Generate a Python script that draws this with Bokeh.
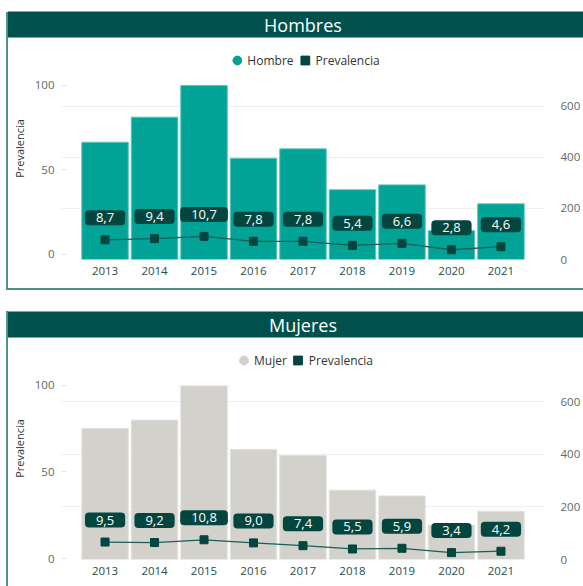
from bokeh.plotting import figure
from bokeh.models import (Range1d, LinearAxis, FixedTicker, Grid, Legend, LegendItem,
                          FactorRange)
from bokeh.layouts import column
from bokeh.embed import file_html
from bokeh.resources import INLINE
from bokeh.core.properties import value

# ---------------- data ----------------
years = ["2013", "2014", "2015", "2016", "2017", "2018", "2019", "2020", "2021"]
hombres_casos = [459, 557, 681, 396, 433, 273, 292, 113, 218]
hombres_prev = [8.7, 9.4, 10.7, 7.8, 7.8, 5.4, 6.6, 2.8, 4.6]
mujeres_casos = [499, 531, 661, 419, 396, 264, 242, 131, 184]
mujeres_prev = [9.5, 9.2, 10.8, 9.0, 7.4, 5.5, 5.9, 3.4, 4.2]
left_ticks = [0, 50, 100]
right_ticks = [0, 200, 400, 600]

# ---------------- style ----------------
FONT = "Open Sans"
W = 575
TITLE_BG = "#00514D"
MARK = "#03463F"
LINE = "#1B5E58"
BORDER = "#4E9189"


def fmt(v):
    return f"{v:.1f}".replace(".", ",")


def panel(title, casos, prev, bar_color, bar_line, legend_name, yl, yr, height, top, bottom,
          margin):
    p = figure(width=W, height=height,
               x_range=FactorRange(factors=years, range_padding=0.0844),
               y_range=Range1d(*yl), toolbar_location=None, output_backend="svg",
               min_border_left=50, min_border_right=36, min_border_top=top,
               min_border_bottom=bottom, margin=margin)
    p.extra_y_ranges = {"n": Range1d(*yr)}
    p.outline_line_color = None
    p.background_fill_color = "white"
    p.border_fill_color = "white"
    p.xgrid.visible = False
    p.ygrid.visible = False

    # title bar
    p.title.text = title
    p.title.align = "center"
    p.title.text_color = "white"
    p.title.text_font = FONT
    p.title.text_font_size = "18px"
    p.title.text_font_style = "normal"
    p.title.background_fill_color = TITLE_BG
    p.title.padding = dict(left=262, right=262, top=1, bottom=1)
    p.title.standoff = 0

    # x axis
    xa = p.xaxis[0]
    xa.axis_line_color = None
    xa.major_tick_line_color = None
    xa.minor_tick_line_color = None
    xa.major_label_text_font = FONT
    xa.major_label_text_font_size = "11.5px"
    xa.major_label_text_color = "#1D4F4C"
    xa.major_label_standoff = 1

    # left axis (Prevalencia)
    ya = p.yaxis[0]
    ya.ticker = FixedTicker(ticks=left_ticks)
    ya.axis_label = "Prevalencia"
    ya.axis_label_text_font = FONT
    ya.axis_label_text_font_size = "11px"
    ya.axis_label_text_font_style = "normal"
    ya.axis_label_text_color = "#333333"
    ya.axis_label_standoff = 5
    ya.axis_line_color = None
    ya.major_tick_in = 5
    ya.major_tick_out = 0
    ya.major_tick_line_color = "#e4e4e4"
    ya.minor_tick_line_color = None
    ya.major_label_text_font = FONT
    ya.major_label_text_font_size = "11.5px"
    ya.major_label_text_color = "#666666"
    ya.major_label_standoff = 7

    # right axis (casos)
    ra = LinearAxis(y_range_name="n", ticker=FixedTicker(ticks=right_ticks))
    ra.axis_line_color = None
    ra.major_tick_line_color = None
    ra.minor_tick_line_color = None
    ra.major_label_text_font = FONT
    ra.major_label_text_font_size = "11.5px"
    ra.major_label_text_color = "#666666"
    ra.major_label_standoff = 10
    p.add_layout(ra, "right")

    p.add_layout(Grid(dimension=1, ticker=FixedTicker(ticks=right_ticks), y_range_name="n",
                      grid_line_color="#efefef", grid_line_width=1))

    p.vbar(x=years, top=casos, width=0.94, y_range_name="n",
           fill_color=bar_color, line_color=bar_line, line_width=1)
    p.line(x=years, y=prev, line_color=LINE, line_width=1.3)
    r_sq = p.scatter(x=years, y=prev, marker="square", size=8, fill_color=MARK, line_color=MARK)
    p.text(x=years, y=prev, text=[fmt(v) for v in prev], y_offset=-22,
           text_align="center", text_baseline="middle", text_color="white",
           text_font_size="13px", text_font=value(FONT),
           background_fill_color=MARK, border_radius=4,
           padding=dict(left=11, right=11, top=3, bottom=3))

    # legend (circle key for the bar series via a hidden renderer)
    r_ci = p.scatter(x=years, y=casos, y_range_name="n", marker="circle",
                     fill_color=bar_color, line_color=bar_color, visible=False)
    legend = Legend(items=[LegendItem(label=legend_name, renderers=[r_ci]),
                           LegendItem(label="Prevalencia", renderers=[r_sq])],
                    orientation="horizontal", location="top_center", margin=12, padding=0,
                    spacing=0, glyph_width=22, glyph_height=22, label_standoff=0,
                    label_text_font=FONT, label_text_font_size="12px",
                    label_text_color="#333333", inactive_fill_alpha=0,
                    border_line_color=None, background_fill_alpha=0)
    p.add_layout(legend, "center")
    return p


m1 = panel("Hombres", hombres_casos, hombres_prev, "#01A397", "#62c4bb", "Hombre",
           (-2.96, 128.4), (0, 868.9), 288, 37, 29, (0, 0, 2, 2))
m2 = panel("Mujeres", mujeres_casos, mujeres_prev, "#D2D1CC", "#e4e3df", "Mujer",
           (-0.57, 127.4), (0, 845), 296, 47, 27, (0, 0, 0, 2))

# wrappers: teal only in the thin strips left free by the figures' margins
bg1 = ", ".join([
    f"linear-gradient(to top, {BORDER} 0 2px, transparent 2px)",
    "linear-gradient(to right, transparent 0 2px, #ffffff 2px)",
    f"linear-gradient(#ffffff 0 12px, {BORDER} 12px)",
])
bg2 = ", ".join([
    "linear-gradient(to right, transparent 0 2px, #ffffff 2px)",
    f"linear-gradient(#ffffff 0 21px, {BORDER} 21px)",
])
wrap1 = column(m1, margin=(0, 0, 0, 6), styles={"background": bg1})
wrap2 = column(m2, margin=(0, 0, 0, 6), styles={"background": bg2})

layout = column(wrap1, wrap2, spacing=0)
open("out.html", "w").write(file_html(layout, INLINE))
